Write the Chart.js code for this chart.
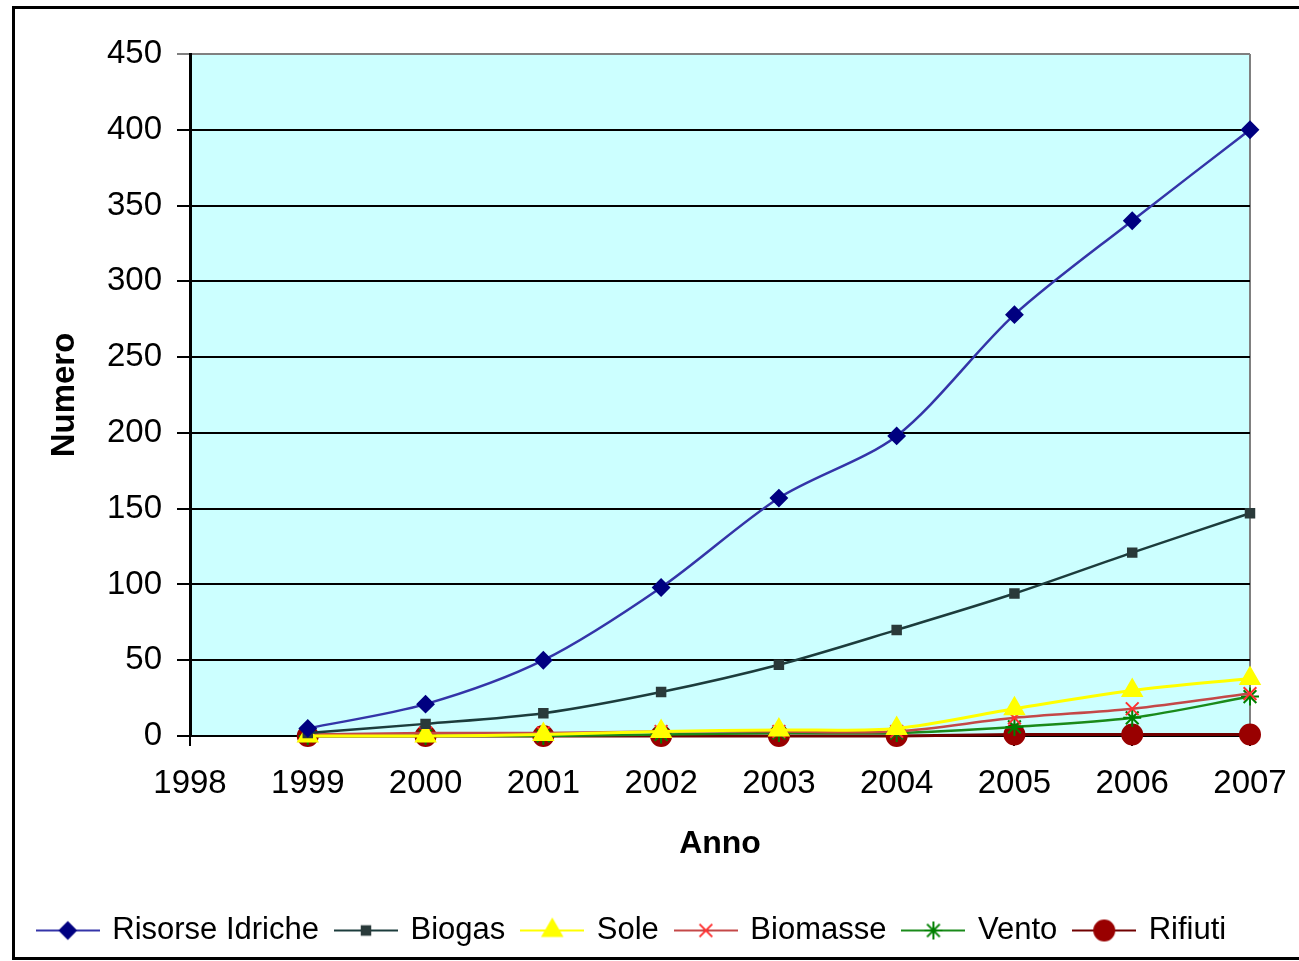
<!DOCTYPE html>
<html>
<head>
<meta charset="utf-8">
<script src="https://cdn.jsdelivr.net/npm/chart.js@4/dist/chart.umd.min.js"></script>
<style>
	html, body { margin: 0; padding: 0; background: #ffffff; }
	#wrap { position: relative; width: 1299px; height: 961px; }
</style>
</head>
<body>
<div id="wrap"><canvas id="chart" width="1299" height="961"></canvas></div>
<script>
// data
const years = [ 1999, 2000, 2001, 2002, 2003, 2004, 2005, 2006, 2007 ];
const risorseIdriche = [ 5, 21, 50, 98, 157, 198, 278, 340, 400 ];
const biogas = [ 2, 8, 15, 29, 47, 70, 94, 121, 147 ];
const sole = [ 0, 0, 1, 3, 4, 5, 18, 30, 38 ];
const biomasse = [ 1, 2, 2, 3, 3, 3, 12, 18, 28 ];
const vento = [ 0, 0, 0, 1, 2, 2, 6, 12, 26 ];
const rifiuti = [ 0, 0, 0, 0, 0, 0, 1, 1, 1 ];
const yTicks = [ 0, 50, 100, 150, 200, 250, 300, 350, 400, 450 ];
const xTicks = [ 1998, 1999, 2000, 2001, 2002, 2003, 2004, 2005, 2006, 2007 ];

const FONT = "'Liberation Sans', Arial, sans-serif";

// legend swatch: short line with the marker in the middle
function legendSwatch( lineColor, markerColor, style, radius ) {
	const c = document.createElement( "canvas" );
	c.width = 64;
	c.height = 30;
	const ctx = c.getContext( "2d" );
	ctx.strokeStyle = lineColor;
	ctx.lineWidth = 2;
	ctx.beginPath();
	ctx.moveTo( 0, 15 );
	ctx.lineTo( 64, 15 );
	ctx.stroke();
	ctx.fillStyle = markerColor;
	ctx.strokeStyle = markerColor;
	Chart.helpers.drawPoint( ctx, {
		  pointStyle: style
		, radius: radius
		, borderWidth: 2
		, rotation: 0
	}, 32, 15 );
	return c;
}

function series( label, values, lineColor, markerColor, style, radius, width ) {
	return {
		  label: label
		, data: values.map( ( v, i ) => ( { x: years[ i ], y: v } ) )
		, borderColor: lineColor
		, backgroundColor: markerColor
		, borderWidth: width
		, pointStyle: style
		, pointRadius: radius
		, pointBackgroundColor: markerColor
		, pointBorderColor: markerColor
		, pointBorderWidth: 2
		, tension: 0.3
		, clip: false
		, swatch: legendSwatch( lineColor, markerColor, style, radius )
	};
}

const datasets = [
	  series( "Risorse Idriche", risorseIdriche, "#3434a8", "#000080", "rectRot", 8, 2.5 )
	, series( "Biogas", biogas, "#1c3c3c", "#2a3a3a", "rect", 6, 2.5 )
	, series( "Sole", sole, "#ffff00", "#ffff00", "triangle", 11, 3 )
	, series( "Biomasse", biomasse, "#c44848", "#ff3030", "crossRot", 9, 2.5 )
	, series( "Vento", vento, "#1a8a1a", "#008000", "star", 9, 2.5 )
	, series( "Rifiuti", rifiuti, "#700000", "#990000", "circle", 10, 3 )
];

const plotFrame = {
	  id: "plotFrame"
	, beforeDraw( chart ) {
		const { ctx, chartArea: a } = chart;
		ctx.save();
		ctx.fillStyle = "#ccffff";
		ctx.fillRect( a.left, a.top, a.right - a.left, a.bottom - a.top );
		ctx.strokeStyle = "#808080";
		ctx.lineWidth = 2;
		ctx.beginPath();
		ctx.moveTo( a.right, a.top );
		ctx.lineTo( a.right, a.bottom );
		ctx.stroke();
		// outer frame of the picture
		ctx.strokeStyle = "#000000";
		ctx.lineWidth = 3;
		ctx.strokeRect( 13.5, 7.5, 1300, 951 );
		ctx.restore();
	}
};

new Chart( document.getElementById( "chart" ), {
	  type: "line"
	, data: { datasets: datasets }
	, plugins: [ plotFrame ]
	, options: {
		  responsive: false
		, animation: false
		, events: []
		, layout: { padding: { left: 15, right: 49, top: 54, bottom: 5 } }
		, scales: {
			  x: {
				  type: "linear"
				, min: 1998
				, max: 2007
				, afterFit: scale => { scale.height = 161; }
				, afterBuildTicks: scale => { scale.ticks = xTicks.map( v => ( { value: v } ) ); }
				, ticks: {
					  color: "#000000"
					, font: { family: FONT, size: 33, lineHeight: 1.6 }
					, padding: 12
					, maxRotation: 0
					, callback: v => String( v )
				}
				, grid: {
					  drawOnChartArea: false
					, color: "#000000"
					, lineWidth: 2
					, tickLength: 10
				}
				, border: { color: "#000000", width: 2 }
				, title: {
					  display: true
					, text: "Anno"
					, color: "#000000"
					, font: { family: FONT, size: 32, weight: "bold" }
					, padding: { top: 0, bottom: 34 }
				}
			}
			, y: {
				  min: 0
				, max: 450
				, afterFit: scale => { scale.width = 175; }
				, afterBuildTicks: scale => { scale.ticks = yTicks.map( v => ( { value: v } ) ); }
				, ticks: {
					  color: "#000000"
					, font: { family: FONT, size: 33 }
					, padding: 15
				}
				, grid: {
					  color: c => c.tick && c.tick.value === 450 ? "#808080" : "#000000"
					, lineWidth: 2
					, tickLength: 13
				}
				, border: { color: "#000000", width: 3 }
				, title: {
					  display: true
					, text: "Numero"
					, color: "#000000"
					, font: { family: FONT, size: 33, weight: "bold" }
					, padding: { top: 30, bottom: 0 }
				}
			}
		}
		, plugins: {
			  tooltip: { enabled: false }
			, legend: {
				  position: "bottom"
				, labels: {
					  usePointStyle: true
					, pointStyleWidth: 58
					, padding: 18
					, color: "#000000"
					, font: { family: FONT, size: 31 }
					, generateLabels: chart => chart.data.datasets.map( ( ds, i ) => ( {
						  text: ds.label
						, pointStyle: ds.swatch
						, fillStyle: ds.backgroundColor
						, strokeStyle: ds.borderColor
						, lineWidth: 0
						, hidden: false
						, datasetIndex: i
					} ) )
				}
			}
		}
	}
} );
</script>
</body>
</html>
